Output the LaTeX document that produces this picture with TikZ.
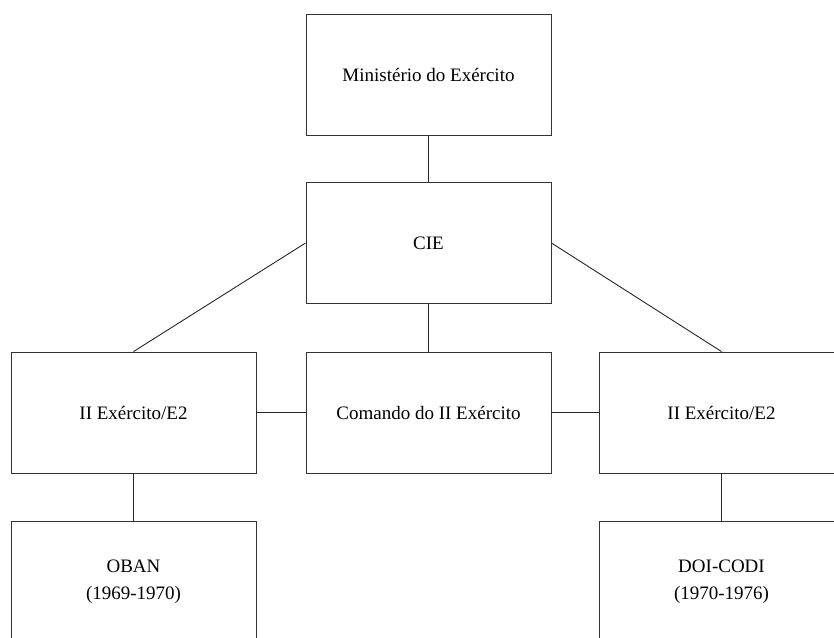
\documentclass[tikz,border=0pt]{standalone}
\usepackage{fontspec}
\setmainfont{Liberation Serif}
\begin{document}
\begin{tikzpicture}[x=1pt,y=-1pt,
  box/.style={draw=black!80,line width=0.9pt,rectangle,minimum width=245pt,minimum height=121pt,inner sep=0pt,align=center,font=\fontsize{19}{27}\selectfont},
  conn/.style={draw=black!85,line width=0.9pt}]
\useasboundingbox (0,0) rectangle (834,637);
\clip (0,0) rectangle (834,637);
\node[box] (min) at (428.5,75) {Ministério do Exército};
\node[box] (cie) at (428.5,243) {CIE};
\node[box] (left) at (133.5,412.5) {II Exército/E2};
\node[box] (mid) at (428.5,412.5) {Comando do II Exército};
\node[box] (right) at (721.5,412.5) {II Exército/E2};
\node[box] (oban) at (133.5,581.5) {OBAN\\(1969-1970)};
\node[box] (doi) at (721.5,581.5) {DOI-CODI\\(1970-1976)};
\draw[conn] (min.south) -- (cie.north);
\draw[conn] (cie.south) -- (mid.north);
\draw[conn] (cie.west) -- (left.north);
\draw[conn] (cie.east) -- (right.north);
\draw[conn] (left.east) -- (mid.west);
\draw[conn] (mid.east) -- (right.west);
\draw[conn] (left.south) -- (oban.north);
\draw[conn] (right.south) -- (doi.north);
\end{tikzpicture}
\end{document}
